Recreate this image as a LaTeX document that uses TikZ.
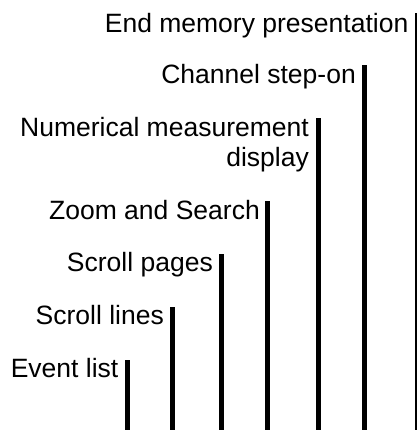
\documentclass[tikz,border=0pt]{standalone}
\usepackage{fontspec}
\setmainfont{Liberation Sans}
\usetikzlibrary{positioning}

\begin{document}
\begin{tikzpicture}[x=1pt,y=1pt,
  bar/.style={line width=5pt},
  lbl/.style={anchor=north east,inner sep=0pt,align=right,
    font=\fontsize{26.5}{30}\selectfont}]
  \useasboundingbox (0,0) rectangle (416,430);
  % tops of the bars
  \coordinate (evtop) at (127,70);
  \coordinate (sltop) at (172.5,123);
  \coordinate (sptop) at (221,176);
  \coordinate (zstop) at (267,229);
  \coordinate (nmtop) at (318.5,312);
  \coordinate (chtop) at (364.5,365);
  \coordinate (emtop) at (417,417);
  % feet of the bars
  \coordinate (evbot) at (127,-4);
  \coordinate (slbot) at (172.5,-4);
  \coordinate (spbot) at (221,-4);
  \coordinate (zsbot) at (267,-4);
  \coordinate (nmbot) at (318.5,-4);
  \coordinate (chbot) at (364.5,-4);
  \coordinate (embot) at (417,-4);
  \draw[bar] (evbot) -- (evtop);
  \draw[bar] (slbot) -- (sltop);
  \draw[bar] (spbot) -- (sptop);
  \draw[bar] (zsbot) -- (zstop);
  \draw[bar] (nmbot) -- (nmtop);
  \draw[bar] (chbot) -- (chtop);
  \draw[bar] (embot) -- (emtop);
  % labels
  \node[lbl] (ev) at ([xshift=-8.5pt,yshift=1.5pt]evtop) {Event list};
  \node[lbl] (sl) at ([xshift=-8.5pt,yshift=1.5pt]sltop) {Scroll lines};
  \node[lbl] (sp) at ([xshift=-8pt,yshift=1.5pt]sptop) {Scroll pages};
  \node[lbl] (zs) at ([xshift=-7pt,yshift=1pt]zstop) {Zoom and Search};
  \node[lbl] (nm) at ([xshift=-9.5pt,yshift=1pt]nmtop) {Numerical measurement\\display};
  \node[lbl] (ch) at ([xshift=-8.5pt,yshift=1pt]chtop) {Channel step-on};
  \node[lbl] (em) at ([xshift=-8.5pt,yshift=0pt]emtop) {End memory presentation};
\end{tikzpicture}
\end{document}
